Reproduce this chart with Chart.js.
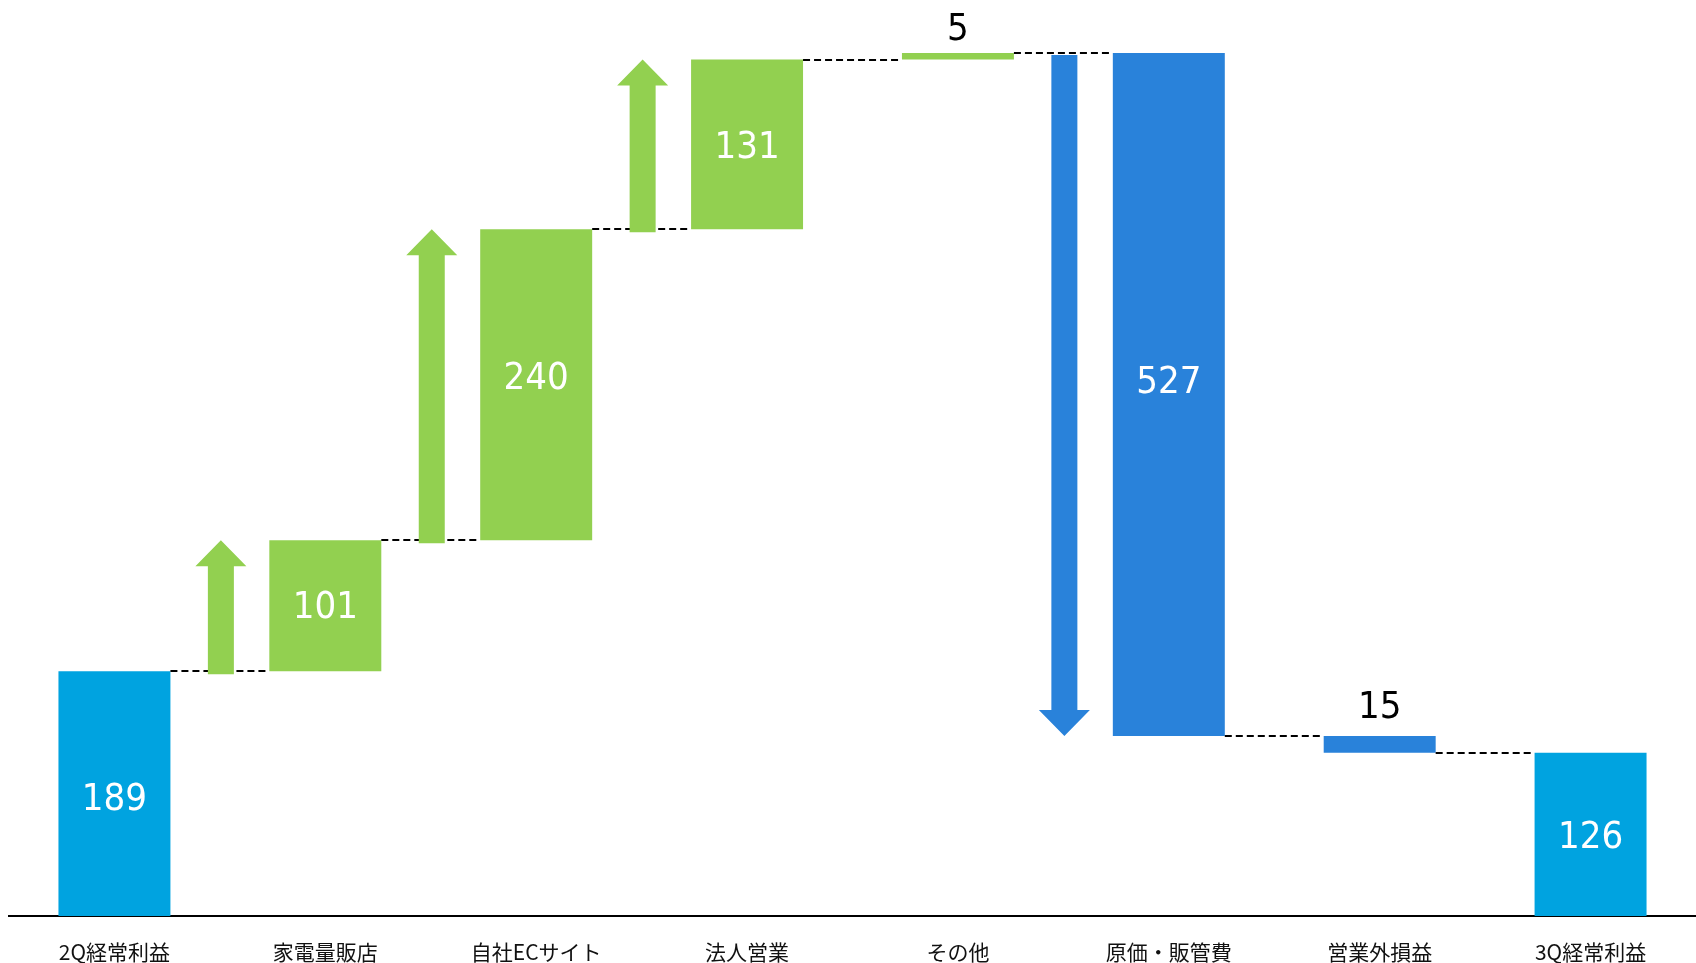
<!DOCTYPE html>
<html><head><meta charset="utf-8">
<script src="https://cdn.jsdelivr.net/npm/chart.js@4"></script>
<style>html,body{margin:0;padding:0;background:#fff;overflow:hidden;} #c{display:block;}</style>
</head><body>
<canvas id="c" width="1696" height="963"></canvas>
<script>
const categories = ['2Q経常利益','家電量販店','自社ECサイト','法人営業','その他','原価・販管費','営業外損益','3Q経常利益'];
const barStarts = [0, 189, 290, 530, 661, 666, 139, 0];
const barEnds   = [189, 290, 530, 661, 666, 139, 126, 126];
const valueLabels = ['189','101','240','131','5','527','15','126'];
const barKinds = ['total','up','up','up','up','down','down','total'];
const labelOutside = [false,false,false,false,true,false,true,false];
const arrowBars = [1, 2, 3, 5];

const kindColors = {total:'#00A3E0', up:'#92D050', down:'#2982DA'};
const floating = categories.map((c,i)=>[barStarts[i], barEnds[i]]);

// label placement style (pixel nudges relative to bar centre / gap above bar)
const labelStyle = {
  insideNudge: [2.5, -1.5, -10, 0, 0, -15, 0, 0],
  outsideGap:  [0, 0, 0, 0, 13, 0, 18, 0]
};

const overlay = {
  id:'overlay',
  afterDatasetsDraw(chart){
    const ctx = chart.ctx, y = chart.scales.y, meta = chart.getDatasetMeta(0);
    const els = meta.data;
    ctx.save();
    // dashed connectors
    ctx.strokeStyle = '#000'; ctx.lineWidth = 2; ctx.setLineDash([7,4]);
    for (let i=0;i<els.length-1;i++){
      const a = els[i], b = els[i+1];
      const yy = Math.round(y.getPixelForValue(barEnds[i]));
      ctx.beginPath();
      ctx.moveTo(a.x + a.width/2, yy);
      ctx.lineTo(b.x - b.width/2, yy);
      ctx.stroke();
    }
    ctx.setLineDash([]);
    // arrows
    arrowBars.forEach(k=>{
      const prev = els[k-1], cur = els[k];
      const cx = ((prev.x + prev.width/2) + (cur.x - cur.width/2))/2 + 1;
      const y0 = y.getPixelForValue(barStarts[k]);
      const y1 = y.getPixelForValue(barEnds[k]);
      const dir = y1 < y0 ? -1 : 1;
      const shaftW = 26, headW = 51, headL = 26;
      const yStart = dir < 0 ? y0 + 3 : y0 + 2;
      const headBase = y1 - dir*headL;
      ctx.fillStyle = kindColors[barKinds[k]];
      ctx.beginPath();
      ctx.moveTo(cx - shaftW/2, yStart);
      ctx.lineTo(cx - shaftW/2, headBase);
      ctx.lineTo(cx - headW/2, headBase);
      ctx.lineTo(cx, y1);
      ctx.lineTo(cx + headW/2, headBase);
      ctx.lineTo(cx + shaftW/2, headBase);
      ctx.lineTo(cx + shaftW/2, yStart);
      ctx.closePath();
      ctx.fill();
    });
    // value labels
    const fs = 38;
    ctx.font = fs + 'px "DejaVu Sans Condensed", "DejaVu Sans", sans-serif';
    ctx.textAlign = 'center';
    ctx.textBaseline = 'alphabetic';
    const capH = 0.729 * fs;
    els.forEach((el,i)=>{
      const p0 = y.getPixelForValue(barStarts[i]), p1 = y.getPixelForValue(barEnds[i]);
      const top = Math.min(p0,p1), bot = Math.max(p0,p1);
      if (labelOutside[i]){
        ctx.fillStyle = '#000';
        ctx.fillText(valueLabels[i], el.x, top - labelStyle.outsideGap[i]);
      } else {
        ctx.fillStyle = '#fff';
        ctx.fillText(valueLabels[i], el.x, (top+bot)/2 + labelStyle.insideNudge[i] + capH/2);
      }
    });
    ctx.restore();
  }
};

new Chart(document.getElementById('c'), {
  type:'bar',
  data:{
    labels: categories,
    datasets:[{
      data: floating,
      backgroundColor: barKinds.map(k=>kindColors[k]),
      borderWidth: 0,
      borderSkipped: false,
      barPercentage: 0.531,
      categoryPercentage: 1.0
    }]
  },
  options:{
    responsive:false,
    devicePixelRatio:1,
    animation:false,
    layout:{padding:{left:9,right:0,top:0,bottom:0}},
    plugins:{legend:{display:false}, tooltip:{enabled:false}},
    scales:{
      x:{
        grid:{display:false, drawTicks:false},
        border:{display:true, color:'#000', width:2},
        ticks:{color:'#111', padding:23, font:{family:'"Noto Sans CJK JP", sans-serif', size:21}, maxRotation:0, autoSkip:false},
        afterFit(s){ s.height = 47; }
      },
      y:{ display:false, min:0, max:707 }
    }
  },
  plugins:[overlay]
});
</script>
</body></html>
